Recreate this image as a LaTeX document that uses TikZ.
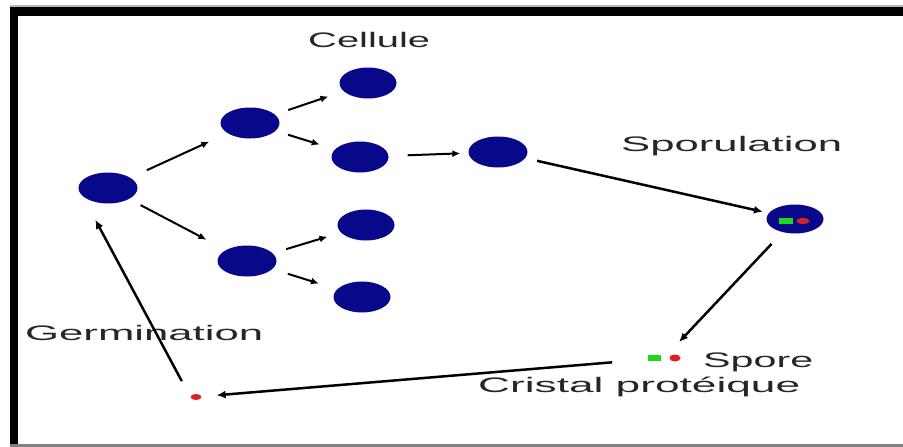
\documentclass[tikz,border=0pt]{standalone}
\usepackage{fontspec}
\setmainfont{Liberation Sans}
\usepackage{graphicx}
\usetikzlibrary{shapes.geometric,arrows.meta}
\definecolor{cellblue}{RGB}{8,8,138}
\definecolor{sporegreen}{RGB}{30,215,30}
\definecolor{sporered}{RGB}{215,35,40}
\begin{document}
\begin{tikzpicture}[x=1pt,y=-1pt,
  cell/.style={ellipse, fill=cellblue, minimum width=59pt, minimum height=31pt, inner sep=0},
  lbl/.style={font=\fontsize{21}{24}\selectfont, anchor=base west, inner sep=0, text=black!85},
  arr/.style={-{Latex[length=8pt,width=7pt]}, line width=2pt, black},
  longarr/.style={-{Latex[length=9pt,width=8pt]}, line width=2.5pt, black},
  gbox/.style={fill=sporegreen, minimum width=14pt, minimum height=6pt, inner sep=0},
  rdot/.style={ellipse, fill=sporered, minimum width=12pt, minimum height=6pt, inner sep=0}]
\useasboundingbox (0,0) rectangle (903,447);
% frame
\fill[gray!55] (10,5) rectangle (903,6.5);
\fill[black] (10,6.5) rectangle (903,16);
\fill[black] (10,6.5) rectangle (18,445);
\fill[gray] (10,444) rectangle (903,446.5);
% cells
\node[cell] (c0) at (108,188) {};
\node[cell] (c1) at (250,123) {};
\node[cell] (c2) at (247,261) {};
\node[cell, minimum width=57pt] (c3) at (368,83) {};
\node[cell, minimum width=57pt] (c4) at (360,157) {};
\node[cell, minimum width=57pt] (c5) at (366,225) {};
\node[cell, minimum width=57pt] (c6) at (362,297) {};
\node[cell] (c7) at (498,152) {};
\node[cell, minimum width=57pt, minimum height=29pt] (c8) at (795,219) {};
\node[gbox] (c8g) at (786,221) {};
\node[rdot, minimum width=13pt] (c8r) at (803,221) {};
% spore
\node[gbox, minimum width=13pt] (sg) at (654,358) {};
\node[rdot, minimum width=11pt, minimum height=7pt] (sr) at (675,358) {};
\coordinate (spore) at (664,358);
\node[rdot, minimum width=11pt, minimum height=6pt] (dot) at (196,397) {};
% labels
\node[lbl] (tcell) at (308,47) {\resizebox{122pt}{\height}{Cellule}};
\node[lbl] (tspor) at (621,151) {\resizebox{221pt}{\height}{Sporulation}};
\node[lbl] (tgerm) at (25,340) {\resizebox{238pt}{\height}{Germination}};
\node[lbl] (tspore) at (703,367) {\resizebox{110pt}{\height}{Spore}};
\node[lbl] (tcrist) at (478,392) {\resizebox{322pt}{\height}{Cristal protéique}};
% arrows
\draw[arr, shorten <=18pt, shorten >=20pt] (c0) -- (c1);
\draw[arr, shorten <=13pt, shorten >=22pt] (c0) -- (c2);
\draw[arr, shorten <=14pt, shorten >=16pt] (c1) -- (c3);
\draw[arr, shorten <=13pt, shorten >=16pt] (c1) -- (c4);
\draw[arr, shorten <=14pt, shorten >=14pt] (c2) -- (c5);
\draw[arr, shorten <=16pt, shorten >=19pt] (c2) -- (c6);
\draw[arr, shorten <=19pt, shorten >=8pt] (c4) -- (c7);
\draw[longarr, shorten <=12pt, shorten >=6pt] (c7) -- (c8);
\draw[longarr, shorten <=16pt, shorten >=22pt] (c8) -- (spore);
\draw[longarr, shorten <=52pt, shorten >=15pt] (spore) -- (dot);
\draw[longarr, shorten <=18pt, shorten >=36pt] (dot.west) -- (c0.west);
\end{tikzpicture}
\end{document}
